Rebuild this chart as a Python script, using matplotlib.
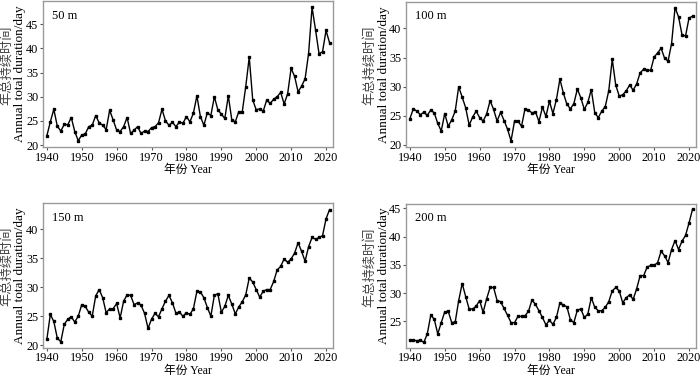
import matplotlib
matplotlib.use("Agg")
import matplotlib.pyplot as plt

years = list(range(1940, 2022))

d50 = [21.9, 24.8, 27.4, 23.9, 22.9, 24.3, 24.2, 25.7, 22.8, 20.9,
       22.1, 22.3, 23.8, 24.1, 26.1, 24.6, 24.1, 23.2, 27.2, 25.2,
       23.1, 22.8, 23.8, 25.7, 22.4, 23.1, 23.8, 22.4, 22.9, 22.8,
       23.6, 23.8, 24.6, 27.4, 25.0, 24.1, 24.7, 23.8, 24.8, 24.5,
       25.9, 24.8, 26.6, 30.2, 25.9, 24.1, 26.7, 26.1, 30.0, 27.3,
       26.4, 25.5, 30.2, 25.2, 24.8, 26.9, 26.9, 32.1, 38.2, 29.3,
       27.3, 27.5, 27.0, 29.3, 28.6, 29.5, 30.0, 30.9, 28.5, 30.6,
       35.9, 34.2, 31.0, 32.2, 33.7, 38.9, 48.5, 43.8, 38.9, 39.3,
       43.7, 41.2]

d100 = [24.5, 26.2, 25.8, 25.2, 25.6, 25.1, 26.0, 25.5, 23.7, 22.4,
        25.4, 23.2, 24.3, 25.8, 30.0, 28.2, 26.4, 23.4, 24.8, 25.8,
        24.7, 24.1, 25.3, 27.6, 26.1, 24.1, 25.6, 24.2, 22.7, 20.7,
        24.1, 24.1, 23.2, 26.2, 26.0, 25.5, 25.7, 24.0, 26.5, 24.9,
        27.5, 25.4, 27.8, 31.3, 28.9, 27.0, 26.2, 27.1, 29.6, 28.1,
        26.1, 27.3, 29.5, 25.5, 24.7, 25.8, 26.6, 29.3, 34.7, 30.3,
        28.4, 28.6, 29.3, 30.3, 29.4, 30.5, 32.4, 33.0, 32.9, 32.8,
        35.1, 35.8, 36.6, 34.9, 34.4, 37.4, 43.6, 42.0, 38.9, 38.7,
        41.8, 42.1]

d150 = [21.0, 25.3, 24.1, 21.2, 20.6, 23.6, 24.5, 24.9, 24.0, 25.0,
        27.0, 26.7, 25.7, 25.0, 28.5, 29.6, 28.2, 25.6, 26.3, 26.3,
        27.2, 24.7, 27.6, 28.7, 28.6, 27.0, 27.3, 26.9, 25.5, 22.9,
        24.5, 25.5, 24.9, 26.3, 27.6, 28.6, 27.3, 25.5, 25.7, 25.0,
        25.6, 25.3, 26.3, 29.3, 29.2, 28.2, 26.5, 25.0, 28.6, 28.9,
        25.7, 26.7, 28.6, 27.1, 25.4, 26.6, 27.5, 28.7, 31.6, 30.9,
        29.6, 28.3, 29.3, 29.6, 29.6, 31.0, 33.0, 33.6, 34.9, 34.3,
        34.9, 35.9, 37.7, 36.2, 34.5, 37.0, 38.6, 38.3, 38.6, 38.9,
        41.8, 43.4]

d200 = [21.7, 21.7, 21.6, 21.7, 21.3, 22.8, 26.1, 25.4, 22.8, 24.8,
        26.7, 26.8, 24.8, 24.9, 28.7, 31.7, 29.4, 27.2, 27.2, 27.7,
        28.7, 26.6, 29.0, 31.0, 31.0, 28.7, 28.5, 27.3, 26.1, 24.8,
        24.8, 25.9, 25.9, 26.0, 26.8, 28.8, 28.0, 26.9, 25.7, 24.4,
        25.2, 24.5, 25.7, 28.3, 27.9, 27.6, 25.3, 24.8, 27.0, 27.2,
        25.7, 26.3, 29.2, 27.5, 26.9, 26.9, 27.5, 28.5, 30.4, 31.0,
        30.4, 28.3, 29.2, 29.7, 28.9, 30.8, 33.1, 33.1, 34.6, 34.9,
        34.9, 35.4, 37.4, 36.6, 35.4, 37.7, 39.3, 37.7, 39.2, 40.2,
        42.4, 44.8]

labels = ["50 m", "100 m", "150 m", "200 m"]
series = [d50, d100, d150, d200]
ylims = [(19.6, 49.8), (19.65, 44.6), (19.6, 44.5), (20.4, 45.75)]
yticks = [[20, 25, 30, 35, 40, 45], [20, 25, 30, 35, 40],
          [20, 25, 30, 35, 40], [25, 30, 35, 40, 45]]

W, H = 700, 376
# axes boxes in pixels: left, top, right, bottom
boxes = [(43, 1, 333, 147), (406, 1.7, 696, 147),
         (43, 203.3, 333, 347.5), (406, 204, 696, 347.5)]

serif = ["Liberation Serif", "Noto Sans CJK SC"]
fig = plt.figure(figsize=(7, 3.76), dpi=100)

for i in range(4):
    l, t, r, b = boxes[i]
    w, h = r - l, b - t
    ax = fig.add_axes([l / W, 1 - b / H, w / W, h / H])
    ax.plot(years, series[i], color="black", lw=1.0, marker="s", ms=1.8)
    ax.set_xlim(1938.9, 2022)
    ax.set_ylim(*ylims[i])
    ax.set_xticks([1940, 1950, 1960, 1970, 1980, 1990, 2000, 2010, 2020])
    ax.set_yticks(yticks[i])
    for s in ax.spines.values():
        s.set_color("#9a9a9a")
        s.set_linewidth(1.0)
    ax.tick_params(direction="out", length=2.5, width=0.8, color="#555555",
                   labelsize=8.8, pad=0.8)
    for lab in ax.get_xticklabels() + ax.get_yticklabels():
        lab.set_family(serif)
    ax.text(0.03, 0.9, labels[i], transform=ax.transAxes, fontsize=9,
            family=serif, va="center", ha="left")
    # x label, bottom edge of its box placed below the tick labels
    ax.text(0.5, -(b + 29 - b) / h, "年份 Year", transform=ax.transAxes,
            family=serif, fontsize=8.5, ha="center", va="bottom")
    # two-line y label
    ax.text(-36.5 / w, 0.56, "年总持续时间", transform=ax.transAxes,
            family=serif, fontsize=9.5, color="#444444", rotation=90,
            ha="center", va="center")
    ax.text(-22.5 / w, 0.5, "Annual total duration/day",
            transform=ax.transAxes, family=serif, fontsize=9.5,
            rotation=90, ha="center", va="center")

fig.savefig("out.png", dpi=100)
